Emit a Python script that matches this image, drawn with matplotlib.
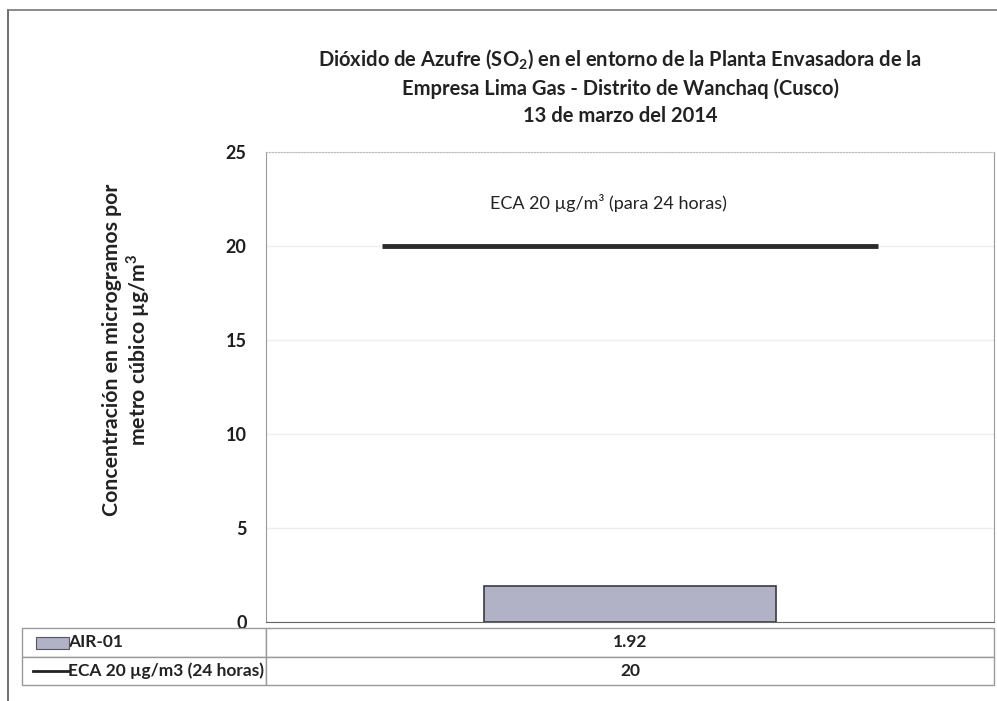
import matplotlib
matplotlib.use('Agg')
import matplotlib.pyplot as plt
from matplotlib.patches import Rectangle
from matplotlib.lines import Line2D

plt.rcParams['font.family'] = ['Lato', 'DejaVu Sans']
plt.rcParams['font.weight'] = 'bold'
plt.rcParams['mathtext.fontset'] = 'custom'
plt.rcParams['mathtext.rm'] = 'Lato'
plt.rcParams['mathtext.bf'] = 'Lato:bold'

# data
categories = ['']
air01 = [1.92]
eca = [20]
series_names = ['AIR-01', 'ECA 20 µg/m3 (24 horas)']
yticks = [0, 5, 10, 15, 20, 25]

title = ('Dióxido de Azufre (SO$_\\mathbf{2}$) en el entorno de la Planta Envasadora de la\n'
         'Empresa Lima Gas - Distrito de Wanchaq (Cusco)\n'
         '13 de marzo del 2014')

fig = plt.figure(figsize=(9.97, 7.01), dpi=100)
ax = fig.add_axes([266/997, 1-622/701, (994-266)/997, (622-152)/701])

x = list(range(len(categories)))
ax.bar(x, air01, width=0.4, color='#b2b2c6', edgecolor='#3a3a44', linewidth=1.2, zorder=3)
for xi, v in zip(x, eca):
    ax.hlines(v, xi - 0.34, xi + 0.34, color='#2b2b2b', linewidth=3.5, zorder=4)

ax.set_xlim(-0.5, 0.5)
ax.set_ylim(0, 25)
ax.set_yticks(yticks)
ax.set_xticks([])
ax.tick_params(axis='y', length=0, pad=14, labelsize=13, labelcolor='#1e1e1e')
ax.grid(axis='y', color='#eeeeee', linewidth=1, zorder=0)
ax.spines['top'].set_color('#bbbbbb')
ax.spines['top'].set_linestyle(':')
ax.spines['right'].set_color('#999999')
ax.spines['left'].set_color('#999999')
ax.spines['bottom'].set_color('#666666')
ax.spines['bottom'].set_linestyle((0, (4, 1)))

ax.text(-0.03, 22.3, 'ECA 20 µg/m³ (para 24 horas)', ha='center', va='center',
        fontsize=13, fontweight='normal', color='#222222')

fig.text(620/997, 1-87/701, title, ha='center', va='center', fontsize=14.5,
         color='#222222', linespacing=1.45)

fig.text(127/997, 1-350/701, 'Concentración en microgramos por\nmetro cúbico µg/m$^\\mathbf{3}$',
         rotation=90, ha='center', va='center', fontsize=15.3,
         color='#222222', linespacing=1.1)

# data table under the axis
cell_text = [[series_names[0], '%.2f' % air01[0]],
             [series_names[1], '%d' % eca[0]]]
tx0, tx1 = 22/997, 994/997
ty0, ty1 = 1-685/701, 1-628/701
tab = fig.add_axes([tx0, ty0, tx1-tx0, ty1-ty0])
tab.set_axis_off()
t = tab.table(cellText=cell_text, colWidths=[(266-22)/(994-22), (994-266)/(994-22)],
              bbox=[0, 0, 1, 1], cellLoc='center')
t.auto_set_font_size(False)
for (r, c), cell in t.get_celld().items():
    cell.set_edgecolor('#9a9a9a')
    cell.set_linewidth(1.0)
    cell.get_text().set_fontsize(12.5)
    cell.get_text().set_color('#222222')
    if c == 0:
        cell.get_text().set_ha('left')
        cell.PAD = 0.19
# legend keys
tab.add_patch(Rectangle((0.0145, 0.64), 0.034, 0.2, transform=tab.transAxes,
                        facecolor='#b2b2c6', edgecolor='#555566', linewidth=0.8, clip_on=False))
tab.add_line(Line2D([0.011, 0.048], [0.25, 0.25], transform=tab.transAxes,
                    color='#222222', linewidth=2))

# outer frame
fig.add_artist(Line2D([8/997, 8/997], [0, 1-10/701], color='#555555', linewidth=1.2))
fig.add_artist(Line2D([8/997, 1], [1-10/701, 1-10/701], color='#777777', linewidth=1.2))

fig.savefig('out.png', dpi=100)
